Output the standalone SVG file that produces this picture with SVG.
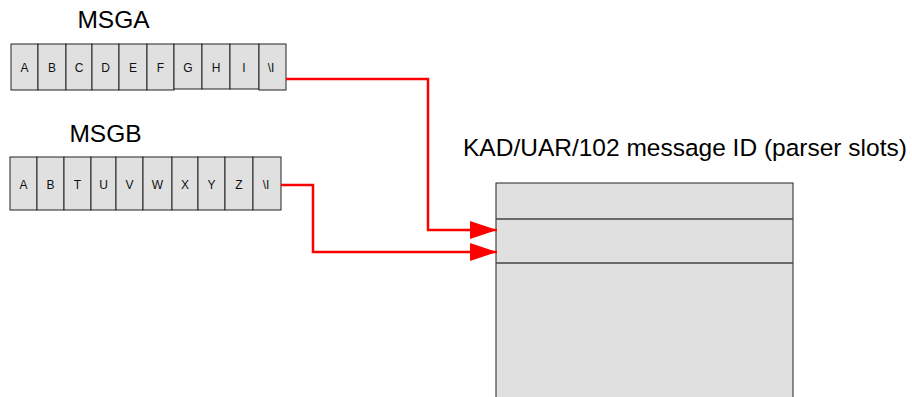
<svg xmlns="http://www.w3.org/2000/svg" width="912" height="397" viewBox="0 0 912 397">
<style>
.cell{fill:#e0e0e0;stroke:#222;stroke-width:1}
.ct{font-family:"Liberation Sans",Arial,sans-serif;font-size:12px;fill:#111;text-anchor:middle}
.title{font-family:"Liberation Sans",Arial,sans-serif;font-size:24.5px;fill:#000}
.box{fill:#e0e0e0;stroke:#222;stroke-width:1}
.div{stroke:#444;stroke-width:1.5}
.conn{fill:none;stroke:#ff0000;stroke-width:2.5}
</style>
<defs>
<marker id="arr" markerUnits="userSpaceOnUse" markerWidth="28" markerHeight="20" refX="27" refY="9" orient="auto">
<path d="M0,0 L27,9 L0,18 Z" fill="#ff0000"/>
</marker>
</defs>
<rect width="912" height="397" fill="#fff"/>
<g id="msga">
<text class="title" x="113.5" y="27.5" text-anchor="middle">MSGA</text>
<rect class="cell" x="11" y="44" width="27" height="46"/><text class="ct" x="24.5" y="71.5">A</text>
<rect class="cell" x="38" y="44" width="28" height="46"/><text class="ct" x="52" y="71.5">B</text>
<rect class="cell" x="66" y="44" width="26" height="46"/><text class="ct" x="79" y="71.5">C</text>
<rect class="cell" x="92" y="44" width="27" height="46"/><text class="ct" x="105.5" y="71.5">D</text>
<rect class="cell" x="119" y="44" width="28" height="46"/><text class="ct" x="133" y="71.5">E</text>
<rect class="cell" x="147" y="44" width="27" height="46"/><text class="ct" x="160.5" y="71.5">F</text>
<rect class="cell" x="174" y="44" width="28" height="45"/><text class="ct" x="188" y="71.5">G</text>
<rect class="cell" x="202" y="44" width="28" height="45"/><text class="ct" x="216" y="71.5">H</text>
<rect class="cell" x="230" y="44" width="29" height="45"/><text class="ct" x="244" y="71.5">I</text>
<rect class="cell" x="259" y="44" width="27" height="46"/><text class="ct" x="271" y="71.5">\I</text>
</g>
<g id="msgb">
<text class="title" x="105.5" y="142" text-anchor="middle">MSGB</text>
<rect class="cell" x="10" y="157" width="27" height="53"/><text class="ct" x="23.5" y="188.5">A</text>
<rect class="cell" x="37" y="157" width="27" height="53"/><text class="ct" x="50.5" y="188.5">B</text>
<rect class="cell" x="64" y="157" width="27" height="53"/><text class="ct" x="77.5" y="188.5">T</text>
<rect class="cell" x="91" y="157" width="25" height="53"/><text class="ct" x="103.5" y="188.5">U</text>
<rect class="cell" x="116" y="157" width="27" height="53"/><text class="ct" x="129.5" y="188.5">V</text>
<rect class="cell" x="143" y="157" width="29" height="53"/><text class="ct" x="157.5" y="188.5">W</text>
<rect class="cell" x="172" y="157" width="26" height="53"/><text class="ct" x="185" y="188.5">X</text>
<rect class="cell" x="198" y="157" width="27" height="53"/><text class="ct" x="211.5" y="188.5">Y</text>
<rect class="cell" x="225" y="157" width="28" height="53"/><text class="ct" x="239" y="188.5">Z</text>
<rect class="cell" x="253" y="157" width="28" height="53"/><text class="ct" x="266" y="188.5">\I</text>
</g>
<g id="kad">
<text class="title" x="463" y="155.5">KAD/UAR/102 message ID (parser slots)</text>
<rect class="box" x="496" y="183" width="297" height="220"/>
<line class="div" x1="496" y1="219" x2="793" y2="219"/>
<line class="div" x1="496" y1="263" x2="793" y2="263"/>
</g>
<g id="connectors">
<path class="conn" d="M286,79 H428 V230 H497" marker-end="url(#arr)"/>
<path class="conn" d="M281,185 H313 V252 H497" marker-end="url(#arr)"/>
</g>
</svg>
